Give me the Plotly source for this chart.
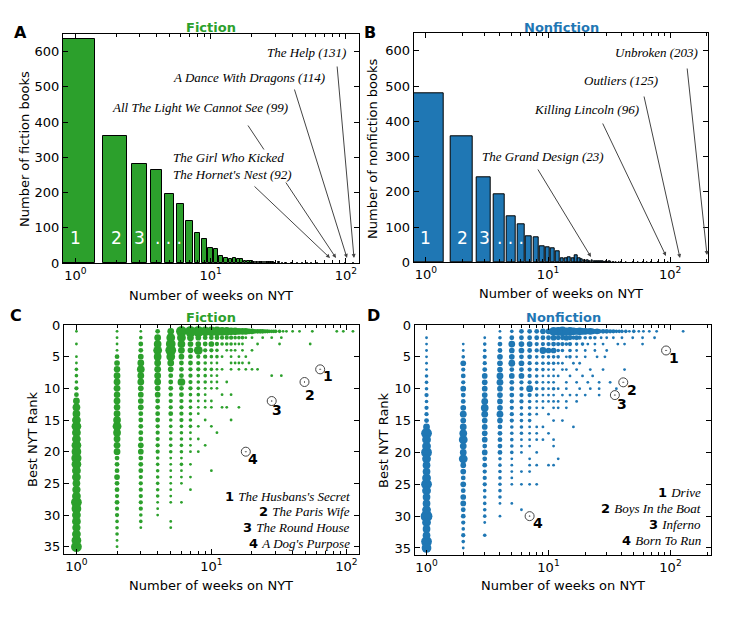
import numpy as np
import plotly.graph_objects as go

# page body has an 8px margin: figure is sized to fit inside it
OX, OY = 8, 8
W, H = 738, 602
GREEN = '#2ca02c'
BLUE = '#1f77b4'

# ---------------- histogram data (weeks on list -> number of books) ----------------
fic_weeks = [1, 2, 3, 4, 5, 6, 7, 8, 9, 10, 11, 12, 13, 14, 15, 16, 17, 18, 19, 20,
             21, 22, 23, 24, 25, 26, 27, 28, 29, 30, 32, 34, 36, 40, 44, 48, 52, 56,
             62, 70, 92, 99, 114, 131]
fic_books = [636, 360, 282, 265, 197, 168, 119, 84, 69, 44, 41, 20, 15, 12, 13, 11, 10, 7, 6, 5,
             4, 3, 3, 3, 2, 3, 2, 2, 2, 1, 2, 1, 1, 1, 1, 1, 1, 1,
             1, 1, 1, 1, 1, 1]

non_weeks = [1, 2, 3, 4, 5, 6, 7, 8, 9, 10, 11, 12, 13, 14, 15, 16, 17, 18, 19, 20,
             21, 22, 23, 24, 25, 26, 27, 28, 29, 30, 31, 32, 33, 34, 35, 36, 38, 40,
             44, 50, 55, 60, 65, 70, 80, 96, 125, 203]
non_books = [481, 357, 242, 192, 130, 109, 74, 70, 46, 44, 39, 31, 11, 11, 13, 11, 20, 12, 8, 5,
             6, 4, 5, 3, 2, 3, 2, 2, 1, 2, 1, 2, 1, 1, 1, 1, 1, 1,
             1, 1, 1, 1, 1, 1, 1, 1, 1, 1]

# ---------------- scatter data: number of books per (weeks, best rank) ----------------
# one list per weeks-on-list value (1..10), entry i = number of books with best rank i+1
fic_w1 = [1, 0, 1, 0, 1, 1, 2, 2, 2, 3, 4, 9, 12, 12, 16, 20, 16, 16, 20, 20,
          22, 20, 16, 16, 12, 14, 16, 25, 20, 16, 16, 14, 16, 20, 25]
fic_w2 = [1, 1, 1, 1, 4, 6, 8, 9, 9, 9, 8, 9, 8, 9, 12, 16, 12, 9, 9, 9,
          4, 4, 4, 6, 4, 4, 3, 4, 3, 3, 2, 2, 2, 1, 1]
fic_w3 = [1, 2, 4, 4, 6, 9, 12, 9, 9, 6, 6, 6, 6, 4, 4, 4, 4, 4, 6, 6,
          4, 4, 4, 3, 3, 3, 3, 3, 3, 2, 2, 1, 0, 0, 0]
fic_w4 = [4, 9, 12, 16, 12, 9, 9, 9, 9, 6, 6, 4, 4, 4, 4, 3, 3, 3, 3, 3,
          2, 2, 2, 2, 2, 2, 2, 1, 1, 1, 0, 0, 0, 0, 0]
fic_w5 = [9, 16, 20, 25, 16, 9, 6, 4, 4, 4, 3, 3, 3, 4, 2, 2, 2, 2, 2, 2,
          1, 1, 1, 1, 1, 1, 1, 1, 0, 0, 1, 1, 0, 0, 0]
fic_w6 = [25, 16, 12, 9, 6, 4, 4, 4, 12, 4, 4, 3, 3, 3, 3, 2, 2, 2, 2, 2,
          1, 2, 1, 1, 1, 0, 0, 1, 0, 0, 0, 0, 0, 0, 0]
fic_w7 = [25, 9, 6, 6, 4, 4, 3, 3, 3, 3, 2, 2, 2, 2, 2, 2, 1, 1, 1, 1,
          0, 1, 0, 1, 0, 1, 0, 0, 0, 0, 0, 0, 0, 0, 0]
fic_w8 = [25, 6, 6, 16, 3, 3, 3, 2, 2, 2, 2, 1, 1, 1, 0, 1, 0, 1, 0, 1,
          0, 0, 0, 0, 0, 0, 0, 0, 0, 0, 0, 0, 0, 0, 0]
fic_w9 = [20, 4, 4, 3, 3, 2, 2, 2, 2, 1, 1, 1, 1, 0, 1, 0, 0, 0, 1, 0,
          0, 0, 0, 0, 0, 0, 0, 0, 0, 0, 0, 0, 0, 0, 0]
fic_w10 = [20, 4, 6, 3, 2, 1, 2, 1, 1, 1, 0, 1, 1, 0, 0, 1, 0, 0, 0, 0,
           0, 0, 1, 0, 0, 0, 0, 0, 0, 0, 0, 0, 0, 0, 0]
# (weeks, best rank, books) for longer runs
fic_tail = [(11, 1, 20), (12, 1, 16), (13, 1, 16), (14, 1, 12), (15, 1, 12), (16, 1, 9), (17, 1, 9),
            (18, 1, 9), (19, 1, 6), (20, 1, 6), (21, 1, 4), (22, 1, 4), (23, 1, 4), (24, 1, 4),
            (25, 1, 3), (26, 1, 3), (27, 1, 2), (28, 1, 2), (29, 1, 2), (30, 1, 2), (32, 1, 2),
            (34, 1, 1), (36, 1, 1), (40, 1, 1), (45, 1, 1), (56, 1, 1), (85, 1, 1), (95, 1, 1), (112, 1, 1),
            (11, 2, 4), (12, 2, 3), (13, 2, 3), (14, 2, 3), (15, 2, 2), (16, 2, 2), (17, 2, 2), (18, 2, 1),
            (20, 2, 1), (24, 2, 1), (28, 2, 1), (33, 2, 1),
            (11, 3, 3), (12, 3, 2), (13, 3, 2), (14, 3, 2), (15, 3, 1), (16, 3, 1), (17, 3, 1), (22, 3, 1),
            (32, 3, 1), (54, 3, 1),
            (11, 4, 2), (13, 4, 1), (14, 4, 1), (15, 4, 1), (17, 4, 1), (20, 4, 1),
            (11, 5, 2), (12, 5, 1), (14, 5, 1), (16, 5, 1), (18, 5, 1),
            (11, 6, 1), (14, 6, 1), (15, 6, 1), (16, 6, 1), (17, 6, 1), (19, 6, 1),
            (11, 7, 1), (12, 7, 1), (14, 7, 1), (16, 7, 1), (18, 7, 1), (20, 7, 1), (22, 7, 1),
            (11, 8, 1), (28, 8, 1), (33, 8, 1), (11, 9, 1), (13, 9, 1), (11, 10, 1),
            (12, 11, 1), (14, 11, 1), (12, 13, 1), (13, 13, 1), (16, 13, 1), (14, 15, 1), (11, 17, 1)]

non_w1 = [0, 1, 1, 1, 1, 1, 1, 2, 2, 2, 3, 2, 3, 3, 4, 9, 25, 16, 16, 25,
          16, 12, 12, 16, 25, 16, 12, 12, 16, 30, 16, 12, 12, 25, 20]
non_w2 = [0, 0, 1, 1, 2, 6, 3, 4, 3, 6, 4, 4, 6, 9, 6, 9, 12, 16, 9, 9,
          16, 6, 6, 4, 6, 4, 6, 6, 4, 4, 3, 2, 3, 2, 1]
non_w3 = [0, 1, 2, 2, 3, 3, 4, 6, 6, 6, 6, 9, 12, 9, 6, 6, 6, 6, 4, 6,
          4, 4, 3, 3, 3, 2, 2, 2, 2, 2, 1, 0, 2, 0, 0]
non_w4 = [1, 2, 4, 4, 6, 6, 6, 9, 9, 6, 6, 6, 6, 9, 6, 4, 4, 4, 4, 4,
          2, 2, 2, 2, 2, 2, 2, 1, 0, 1, 0, 0, 0, 0, 0]
non_w5 = [2, 4, 9, 6, 6, 9, 4, 6, 4, 4, 4, 3, 3, 3, 3, 2, 2, 2, 2, 2,
          1, 1, 1, 1, 1, 0, 0, 1, 0, 0, 0, 0, 0, 0, 0]
non_w6 = [4, 4, 6, 6, 4, 6, 4, 6, 3, 3, 3, 3, 2, 2, 2, 2, 2, 1, 1, 1,
          0, 0, 1, 0, 1, 0, 0, 0, 1, 0, 0, 0, 0, 0, 0]
non_w7 = [4, 4, 6, 4, 4, 3, 3, 3, 3, 9, 3, 2, 2, 2, 2, 1, 1, 1, 1, 0,
          1, 1, 1, 0, 1, 0, 0, 0, 0, 0, 0, 0, 0, 0, 0]
non_w8 = [4, 4, 3, 3, 2, 2, 2, 2, 2, 2, 2, 1, 1, 1, 0, 1, 1, 1, 0, 1,
          0, 1, 0, 0, 1, 0, 0, 0, 0, 0, 0, 0, 0, 0, 0]
non_w9 = [6, 4, 3, 9, 2, 2, 2, 1, 1, 2, 1, 1, 1, 0, 0, 1, 0, 1, 0, 0,
          0, 0, 0, 0, 0, 0, 0, 0, 0, 0, 0, 0, 0, 0, 0]
non_w10 = [6, 4, 3, 6, 2, 2, 1, 1, 1, 1, 1, 1, 0, 1, 0, 0, 1, 0, 0, 0,
           0, 1, 0, 0, 0, 0, 0, 0, 0, 0, 0, 0, 0, 0, 0]
non_tail = [(11, 1, 16), (12, 1, 16), (13, 1, 20), (14, 1, 12), (15, 1, 16), (16, 1, 12), (17, 1, 9),
            (18, 1, 12), (19, 1, 9), (20, 1, 9), (21, 1, 6), (22, 1, 9), (23, 1, 6), (24, 1, 4),
            (25, 1, 6), (26, 1, 4), (28, 1, 4), (30, 1, 4), (32, 1, 3), (34, 1, 3), (36, 1, 2),
            (38, 1, 2), (40, 1, 2), (43, 1, 2), (46, 1, 1), (50, 1, 2), (55, 1, 1), (60, 1, 1),
            (67, 1, 1), (77, 1, 1), (127, 1, 1),
            (11, 2, 6), (12, 2, 4), (13, 2, 4), (14, 2, 6), (15, 2, 4), (16, 2, 3), (17, 2, 4), (18, 2, 3),
            (20, 2, 2), (22, 2, 2), (24, 2, 2), (27, 2, 1), (30, 2, 1), (34, 2, 1), (40, 2, 1), (49, 2, 1),
            (59, 2, 1), (74, 2, 1),
            (11, 3, 4), (12, 3, 3), (13, 3, 3), (14, 3, 2), (15, 3, 3), (17, 3, 2), (19, 3, 2), (21, 3, 1),
            (24, 3, 1), (28, 3, 1), (37, 3, 1), (42, 3, 1), (59, 3, 1),
            (11, 4, 6), (12, 4, 2), (13, 4, 2), (15, 4, 2), (17, 4, 1), (20, 4, 1), (24, 4, 1), (30, 4, 1),
            (11, 5, 2), (12, 5, 2), (14, 5, 1), (15, 5, 2), (17, 5, 1), (20, 5, 1), (25, 5, 1), (29, 5, 1),
            (11, 6, 2), (12, 6, 1), (13, 6, 1), (16, 6, 1), (18, 6, 1),
            (11, 7, 1), (13, 7, 1), (14, 7, 1), (17, 7, 1), (22, 7, 1), (28, 7, 1), (42, 7, 1),
            (11, 8, 1), (12, 8, 1), (15, 8, 1), (19, 8, 1), (23, 8, 1),
            (11, 9, 1), (14, 9, 1), (17, 9, 1), (21, 9, 1), (26, 9, 1), (32, 9, 1),
            (11, 10, 2), (12, 10, 1), (14, 10, 1), (18, 10, 1), (22, 10, 1), (26, 10, 1), (36, 10, 1),
            (11, 11, 1), (13, 11, 1), (15, 11, 1), (17, 11, 1), (20, 11, 1), (26, 11, 1),
            (11, 12, 1), (12, 12, 1), (14, 12, 1), (17, 12, 1), (11, 13, 1), (12, 13, 1), (14, 13, 1),
            (11, 15, 1), (13, 15, 1), (16, 16, 1), (11, 18, 1), (11, 19, 1), (12, 21, 1), (11, 22, 1)]

# highlighted books
fic_top_weeks = [64, 49, 28, 18]
fic_top_ranks = [7, 9, 12, 20]
fic_top_titles = ["The Husbans's Secret", "The Paris Wife", "The Round House", "A Dog's Purpose"]
non_top_weeks = [92, 41, 35, 7]
non_top_ranks = [4, 9, 11, 30]
non_top_titles = ["Drive", "Boys In the Boat", "Inferno", "Born To Run"]

# long-running titles called out in the histograms
fic_callouts = ["The Help (131)", "A Dance With Dragons (114)",
                "All The Light We Cannot See (99)", "The Girl Who Kicked<br>The Hornet's Nest (92)"]
non_callouts = ["Unbroken (203)", "Outliers (125)", "Killing Lincoln (96)", "The Grand Design (23)"]


def build(cols, tail):
    xs, ys, cs = [], [], []
    for w, col in enumerate(cols, start=1):
        for r, c in enumerate(col, start=1):
            if c > 0:
                xs.append(w); ys.append(r); cs.append(c)
    for w, r, c in tail:
        xs.append(w); ys.append(r); cs.append(c)
    order = np.argsort(cs)[::-1]
    return ([xs[i] for i in order], [ys[i] for i in order], [cs[i] for i in order])


def msize(cs):
    return [0.8 + 2.0 * np.sqrt(c) for c in cs]


fx, fy, fc = build([fic_w1, fic_w2, fic_w3, fic_w4, fic_w5, fic_w6, fic_w7, fic_w8, fic_w9, fic_w10], fic_tail)
nx, ny, nc = build([non_w1, non_w2, non_w3, non_w4, non_w5, non_w6, non_w7, non_w8, non_w9, non_w10], non_tail)

fig = go.Figure()
fig.add_trace(go.Bar(x=fic_weeks, y=fic_books, width=[0.8] * len(fic_weeks),
                     marker=dict(color=GREEN, line=dict(color='black', width=1)),
                     xaxis='x', yaxis='y', showlegend=False, hoverinfo='skip'))
fig.add_trace(go.Bar(x=non_weeks, y=non_books, width=[0.8] * len(non_weeks),
                     marker=dict(color=BLUE, line=dict(color='black', width=1)),
                     xaxis='x2', yaxis='y2', showlegend=False, hoverinfo='skip'))
fig.add_trace(go.Scatter(x=fx, y=fy, mode='markers',
                         marker=dict(size=msize(fc), color=GREEN, opacity=1, line=dict(width=0)),
                         xaxis='x3', yaxis='y3', showlegend=False, hoverinfo='skip'))
fig.add_trace(go.Scatter(x=nx, y=ny, mode='markers',
                         marker=dict(size=msize(nc), color=BLUE, opacity=1, line=dict(width=0)),
                         xaxis='x4', yaxis='y4', showlegend=False, hoverinfo='skip'))
for xs, ys, xa, ya in [(fic_top_weeks, fic_top_ranks, 'x3', 'y3'), (non_top_weeks, non_top_ranks, 'x4', 'y4')]:
    fig.add_trace(go.Scatter(x=xs, y=ys, mode='markers',
                             marker=dict(symbol='circle-open-dot', size=9, color='#444', opacity=1,
                                         line=dict(width=1)),
                             xaxis=xa, yaxis=ya, showlegend=False, hoverinfo='skip'))

minor_vals = [2, 3, 4, 5, 6, 7, 8, 9, 20, 30, 40, 50, 60, 70, 80, 90, 200]


def xax(px0, px1, rng, anchor):
    return dict(type='log', domain=[(px0 - OX) / W, (px1 - OX) / W], range=rng, anchor=anchor,
                tickmode='array', tickvals=[1, 10, 100],
                ticktext=['10<sup>0</sup>', '10<sup>1</sup>', '10<sup>2</sup>'],
                ticks='inside', ticklen=5, tickwidth=1, tickcolor='black',
                minor=dict(ticks='inside', ticklen=3, tickwidth=0.8, tickcolor='black',
                           tickmode='array', tickvals=minor_vals, showgrid=False),
                showline=True, linecolor='black', linewidth=1, mirror='allticks',
                showgrid=False, zeroline=False, tickfont=dict(size=13), automargin=False)


def yax(py0, py1, rng, tickvals, anchor):
    return dict(domain=[1 - (py1 - OY) / H, 1 - (py0 - OY) / H], range=rng, anchor=anchor,
                tickmode='array', tickvals=tickvals,
                ticks='inside', ticklen=5, tickwidth=1, tickcolor='black',
                showline=True, linecolor='black', linewidth=1, mirror='allticks',
                showgrid=False, zeroline=False, tickfont=dict(size=13), automargin=False)


fig.update_layout(
    width=W, height=H, autosize=False,
    margin=dict(l=0, r=0, t=0, b=0),
    paper_bgcolor='white', plot_bgcolor='white',
    font=dict(family='DejaVu Sans', size=13, color='black'),
    showlegend=False, bargap=0,
    xaxis=xax(63, 359, [-0.092, 2.097], 'y'),
    yaxis=yax(34, 263, [0, 650], [0, 100, 200, 300, 400, 500, 600], 'x'),
    xaxis2=xax(413.7, 708, [-0.1, 2.31], 'y2'),
    yaxis2=yax(33.3, 262.3, [0, 650], [0, 100, 200, 300, 400, 500, 600], 'x2'),
    xaxis3=xax(64, 359, [-0.092, 2.094], 'y3'),
    yaxis3=yax(325, 554, [36.15, 0], [0, 5, 10, 15, 20, 25, 30, 35], 'x3'),
    xaxis4=xax(414.7, 711, [-0.097, 2.332], 'y4'),
    yaxis4=yax(325, 555, [36.1, 0], [0, 5, 10, 15, 20, 25, 30, 35], 'x4'),
)

ann = []


def paper(x, y, text, size=13, xanchor='center', yanchor='middle', angle=0, color='black',
          family='DejaVu Sans', bg=None, align='center'):
    d = dict(x=(x - OX) / W, y=1 - (y - OY) / H, xref='paper', yref='paper', text=text, showarrow=False,
             xanchor=xanchor, yanchor=yanchor, textangle=angle, align=align,
             font=dict(size=size, color=color, family=family))
    if bg:
        d['bgcolor'] = bg
        d['borderpad'] = 0
    ann.append(d)


# panel letters and titles
for t, x, y in [('A', 21, 32), ('B', 370, 32), ('C', 16, 315), ('D', 373, 315)]:
    paper(x, y, '<b>%s</b>' % t, size=16)
paper(211, 27, '<b>Fiction</b>', color=GREEN)
paper(561, 27, '<b>Nonfiction</b>', color=BLUE)
paper(211.5, 317, '<b>Fiction</b>', color=GREEN)
paper(563, 317, '<b>Nonfiction</b>', color=BLUE)

# axis titles
for x, y in [(211, 295), (561, 293), (211.5, 585), (563, 585)]:
    paper(x, y, 'Number of weeks on NYT')
paper(24, 149, 'Number of fiction books', angle=-90)
paper(372, 149, 'Number of nonfiction books', angle=-90)
paper(32, 439, 'Best NYT Rank', angle=-90)
paper(383, 440, 'Best NYT Rank', angle=-90)


# arrows (reference pixel positions of tail and tip converted to axis coordinates)
def to_a(px, py):
    return -0.092 + (px - 63) * (2.189 / 296), (263 - py) * (650 / 229)


def to_b(px, py):
    return -0.1 + (px - 413.7) * (2.41 / 294.3), (262.3 - py) * (650 / 229)


arrows_a = [((337, 65), (354, 258)), ((294, 88), (347, 258)), ((247, 124), (336, 258)), ((253, 185), (330, 258))]
arrows_b = [((687, 67), (707, 255)), ((643.7, 95), (680, 258)), ((602, 122), (666, 256)), ((537, 168), (591, 257))]
for arrows, conv, xr, yr in [(arrows_a, to_a, 'x', 'y'), (arrows_b, to_b, 'x2', 'y2')]:
    for (t0, t1) in arrows:
        ax_, ay_ = conv(*t0)
        x_, y_ = conv(*t1)
        ann.append(dict(x=x_, y=y_, xref=xr, yref=yr, ax=ax_, ay=ay_, axref=xr, ayref=yr,
                        text='', showarrow=True, arrowhead=2, arrowsize=0.8, arrowwidth=1,
                        arrowcolor='#444'))

serif = 'Liberation Serif'
paper(348, 52, '<i>%s</i>' % fic_callouts[0], xanchor='right', family=serif)
paper(327, 77, '<i>%s</i>' % fic_callouts[1], xanchor='right', family=serif)
paper(290, 108, '<i>%s</i>' % fic_callouts[2], xanchor='right', family=serif)
paper(172, 166.5, '<i>%s</i>' % fic_callouts[3], xanchor='left', family=serif, bg='white', align='left')
paper(700, 52, '<i>%s</i>' % non_callouts[0], xanchor='right', family=serif)
paper(660, 80, '<i>%s</i>' % non_callouts[1], xanchor='right', family=serif)
paper(641, 109, '<i>%s</i>' % non_callouts[2], xanchor='right', family=serif)
paper(606, 156, '<i>%s</i>' % non_callouts[3], xanchor='right', family=serif)

# white bar numbers
for xr, yr in [('x', 'y'), ('x2', 'y2')]:
    for lab, xv in [('1', 1), ('2', 2), ('3', 3), ('. . .', 4.9)]:
        ann.append(dict(x=np.log10(xv), y=70, xref=xr, yref=yr, text=lab, showarrow=False,
                        font=dict(size=17, color='white', family='DejaVu Sans')))

# numbers beside the highlighted books
shifts_c = [(8, -7), (5, -13), (5, -9), (7, -7)]
shifts_d = [(8, -8), (9, -8), (7, -9), (8, -7)]
for ws, rs, sh, xr, yr in [(fic_top_weeks, fic_top_ranks, shifts_c, 'x3', 'y3'),
                           (non_top_weeks, non_top_ranks, shifts_d, 'x4', 'y4')]:
    for i, (w, r) in enumerate(zip(ws, rs)):
        ann.append(dict(x=np.log10(w), y=r, xref=xr, yref=yr, text='<b>%d</b>' % (i + 1), showarrow=False,
                        xshift=sh[i][0], yshift=sh[i][1], font=dict(size=14, color='black')))

# title keys
for i, (t, y) in enumerate(zip(fic_top_titles, [496, 511.5, 527.5, 543.5])):
    paper(352, y, "<b>%d</b> <span style='font-family:Liberation Serif'><i>%s</i></span>" % (i + 1, t),
          xanchor='right')
for i, (t, y) in enumerate(zip(non_top_titles, [492, 508, 524.5, 540.5])):
    paper(703, y, "<b>%d</b> <span style='font-family:Liberation Serif'><i>%s</i></span>" % (i + 1, t),
          xanchor='right')

fig.update_layout(annotations=ann)
fig.write_html("out.html")
